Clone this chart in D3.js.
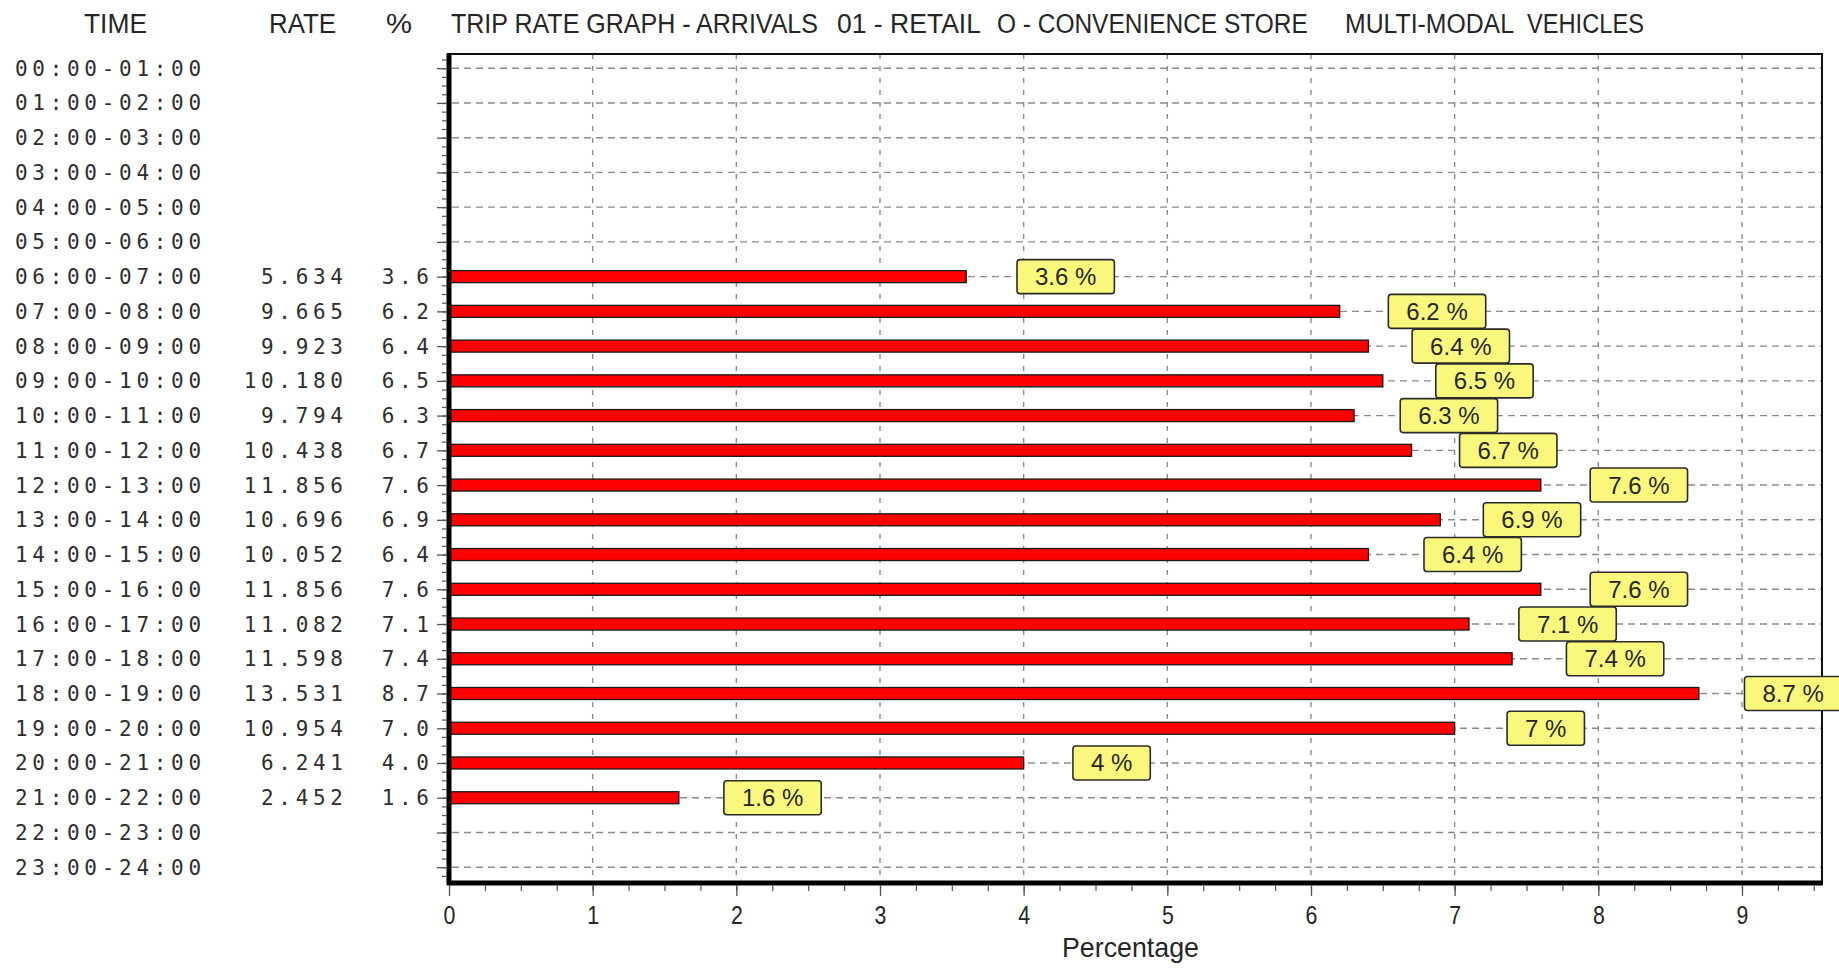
<!DOCTYPE html>
<html>
<head>
<meta charset="utf-8">
<script src="https://cdn.jsdelivr.net/npm/d3@7"></script>
<style>
  html, body { margin: 0; padding: 0; background: #ffffff; }
  svg { display: block; }
</style>
</head>
<body>
<svg id="chart" width="1839" height="968"></svg>
<script>
// ---- data ----
const timeLabels = [
  "00:00-01:00", "01:00-02:00", "02:00-03:00", "03:00-04:00", "04:00-05:00", "05:00-06:00",
  "06:00-07:00", "07:00-08:00", "08:00-09:00", "09:00-10:00", "10:00-11:00", "11:00-12:00",
  "12:00-13:00", "13:00-14:00", "14:00-15:00", "15:00-16:00", "16:00-17:00", "17:00-18:00",
  "18:00-19:00", "19:00-20:00", "20:00-21:00", "21:00-22:00", "22:00-23:00", "23:00-24:00"
];
const rateValues = [
  null, null, null, null, null, null,
  5.634, 9.665, 9.923, 10.180, 9.794, 10.438,
  11.856, 10.696, 10.052, 11.856, 11.082, 11.598,
  13.531, 10.954, 6.241, 2.452, null, null
];
const pctValues = [
  null, null, null, null, null, null,
  3.6, 6.2, 6.4, 6.5, 6.3, 6.7,
  7.6, 6.9, 6.4, 7.6, 7.1, 7.4,
  8.7, 7.0, 4.0, 1.6, null, null
];
const xTickValues = [0, 1, 2, 3, 4, 5, 6, 7, 8, 9];
const columnHeaders = ["TIME", "RATE", "%"];
const titleParts = ["TRIP RATE GRAPH - ARRIVALS", "01 - RETAIL", "O - CONVENIENCE STORE", "MULTI-MODAL", "VEHICLES"];
const xAxisTitle = "Percentage";

// ---- layout ----
const plot = { left: 449, right: 1822, top: 54, bottom: 883 };
const titleSpans = [[451, 818], [837, 981], [997, 1308], [1345, 1514], [1527, 1644]];
const headerSpans = [[84, 147], [269, 336], [386, 412]];
const sansFont = "'Liberation Sans', Arial, sans-serif";
const monoFont = "'DejaVu Sans Mono', monospace";
const ink = "#262626";

const svg = d3.select("#chart");

const x = d3.scaleLinear().domain([0, 9.557]).range([plot.left, plot.right]);
const y = d3.scalePoint().domain(timeLabels).range([68.2, 867.2]);
const yIndex = d3.scaleLinear().domain([0, timeLabels.length - 1]).range(y.range());

// Narrow-set text: squeeze each string horizontally so it spans [x0, x1].
function fittedText(parent, str, x0, x1, baseline, size) {
  const t = parent.append("text")
    .attr("font-family", sansFont)
    .attr("font-size", size)
    .attr("fill", ink)
    .text(str);
  const natural = t.node().getComputedTextLength();
  const sx = (x1 - x0) / natural;
  t.attr("transform", `translate(${x0},${baseline}) scale(${sx},1)`);
  return t;
}

// ---- title and column headers ----
const head = svg.append("g");
titleParts.forEach((s, i) => fittedText(head, s, titleSpans[i][0], titleSpans[i][1], 33, 28));
columnHeaders.forEach((s, i) => fittedText(head, s, headerSpans[i][0], headerSpans[i][1], 33, 28));

// ---- grid ----
const grid = svg.append("g").attr("stroke", "#8c8c8c").attr("stroke-width", 1.4);
grid.selectAll("line.h")
  .data(timeLabels)
  .join("line")
  .attr("class", "h")
  .attr("x1", plot.left + 3).attr("x2", plot.right)
  .attr("y1", d => y(d)).attr("y2", d => y(d))
  .attr("stroke-dasharray", "7,5");
grid.selectAll("line.v")
  .data(xTickValues.filter(v => v > 0))
  .join("line")
  .attr("class", "v")
  .attr("x1", d => x(d)).attr("x2", d => x(d))
  .attr("y1", plot.top).attr("y2", plot.bottom)
  .attr("stroke-dasharray", "5,7");

// ---- bars ----
const rows = timeLabels.map((t, i) => ({ time: t, rate: rateValues[i], pct: pctValues[i] }))
  .filter(r => r.pct != null);
const rateTotal = d3.sum(rows, r => r.rate);

svg.append("g").selectAll("rect")
  .data(rows)
  .join("rect")
  .attr("x", x(0))
  .attr("y", d => y(d.time) - 6)
  .attr("width", d => x(d.pct) - x(0))
  .attr("height", 12)
  .attr("fill", "#ff0000")
  .attr("stroke", "#1a1a1a")
  .attr("stroke-width", 1.3);

// ---- frame and axes ----
svg.append("rect")
  .attr("x", plot.left).attr("y", plot.top)
  .attr("width", plot.right - plot.left).attr("height", plot.bottom - plot.top)
  .attr("fill", "none").attr("stroke", "#111").attr("stroke-width", 2);
svg.append("line")
  .attr("x1", plot.left).attr("x2", plot.left)
  .attr("y1", plot.top - 1).attr("y2", plot.bottom + 2)
  .attr("stroke", "#000").attr("stroke-width", 5);
svg.append("line")
  .attr("x1", plot.left - 2).attr("x2", plot.right + 1)
  .attr("y1", plot.bottom).attr("y2", plot.bottom)
  .attr("stroke", "#000").attr("stroke-width", 5);

const xMajor = svg.append("g")
  .attr("transform", `translate(0,${plot.bottom + 2})`)
  .call(d3.axisBottom(x).tickValues(xTickValues).tickSize(11).tickPadding(10).tickFormat(d3.format("d")));
xMajor.select(".domain").remove();
xMajor.selectAll("line").attr("stroke", "#555").attr("stroke-width", 1.3);
// narrow digits, still centred on their ticks (text sits at x = 0 of each tick)
xMajor.selectAll(".tick text")
  .attr("font-family", sansFont).attr("font-size", 26).attr("fill", ink)
  .attr("transform", "scale(0.82,1)");

const xMinor = svg.append("g")
  .attr("transform", `translate(0,${plot.bottom + 2})`)
  .call(d3.axisBottom(x).tickValues(d3.range(0.25, 9.51, 0.25)).tickSize(6).tickFormat(""));
xMinor.select(".domain").remove();
xMinor.selectAll("line").attr("stroke", "#555").attr("stroke-width", 1.2);

const yMajor = svg.append("g")
  .attr("transform", `translate(${plot.left - 2},0)`)
  .call(d3.axisLeft(y).tickSize(10).tickFormat(""));
yMajor.select(".domain").remove();
yMajor.selectAll("line").attr("stroke", "#555").attr("stroke-width", 1.3);

const yMinor = svg.append("g")
  .attr("transform", `translate(${plot.left - 2},0)`)
  .call(d3.axisLeft(yIndex).tickValues(d3.range(-0.25, 23.3, 0.25)).tickSize(5).tickFormat(""));
yMinor.select(".domain").remove();
yMinor.selectAll("line").attr("stroke", "#555").attr("stroke-width", 1.2);

fittedText(svg, xAxisTitle, 1062, 1199, 957, 27);

// ---- left-hand table: time, rate, percentage ----
const ls = 4.7;
const table = svg.append("g")
  .attr("font-family", monoFont)
  .attr("font-size", 21)
  .attr("letter-spacing", ls)
  .attr("fill", "#2e2e2e");
table.selectAll("text.time")
  .data(timeLabels)
  .join("text")
  .attr("class", "time")
  .attr("x", 15)
  .attr("y", d => y(d) + 7.5)
  .text(d => d);
table.selectAll("text.rate")
  .data(rows)
  .join("text")
  .attr("class", "rate")
  .attr("text-anchor", "end")
  .attr("x", 343 + ls)
  .attr("y", d => y(d.time) + 7.5)
  .text(d => d.rate.toFixed(3));
table.selectAll("text.pct")
  .data(rows)
  .join("text")
  .attr("class", "pct")
  .attr("text-anchor", "end")
  .attr("x", 429 + ls)
  .attr("y", d => y(d.time) + 7.5)
  .text(d => d.pct.toFixed(1));

// ---- value callouts ----
const callouts = svg.append("g").selectAll("g")
  .data(rows)
  .join("g")
  .attr("transform", d => `translate(${x(d.rate / rateTotal * 100) + 49},${y(d.time)})`);
callouts.each(function (d) {
  const g = d3.select(this);
  const rect = g.append("rect");
  const label = g.append("text")
    .attr("font-family", sansFont)
    .attr("font-size", 24)
    .attr("fill", ink)
    .attr("x", 18)
    .attr("y", 8.5)
    .text(`${d.pct} %`);
  const w = label.node().getComputedTextLength() + 36;
  rect.attr("x", 0).attr("y", -17)
    .attr("width", w).attr("height", 34)
    .attr("rx", 3).attr("ry", 3)
    .attr("fill", "#f9f87c")
    .attr("stroke", "#2b2b2b")
    .attr("stroke-width", 1.6);
});
</script>
</body>
</html>
